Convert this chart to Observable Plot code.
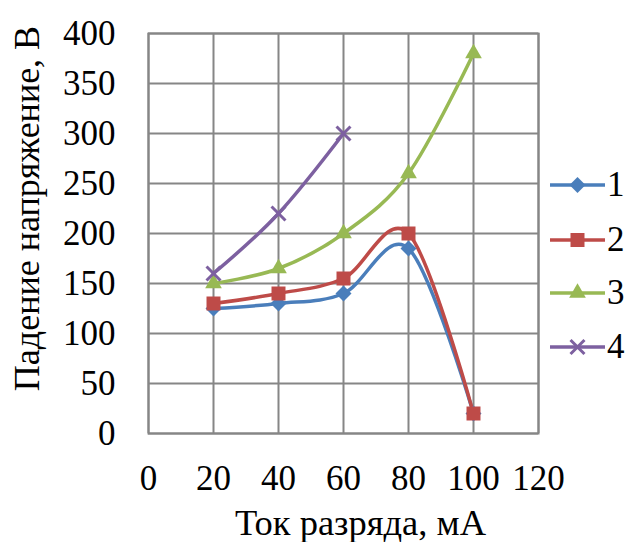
<!DOCTYPE html>
<html>
<head>
<meta charset="utf-8">
<script src="https://cdn.jsdelivr.net/npm/d3@7"></script>
<script src="https://cdn.jsdelivr.net/npm/@observablehq/plot@0.6"></script>
<style>
  body { margin: 0; background: #fff; }
  #chart { position: relative; width: 629px; height: 542px; font-family: "Liberation Serif", "Times New Roman", serif; }
  #legend { position: absolute; left: 548px; top: 0; }
  .item { position: absolute; left: 0; display: flex; align-items: center; height: 40px; }
  .item span { font-size: 35px; line-height: 40px; margin-left: 1px; color: #000; }
</style>
</head>
<body>
<div id="chart"></div>
<script>
// ---- data ----
const currents = [20, 40, 60, 80, 100];
const series1 = [125, 130, 140, 185, 20];
const series2 = [130, 140, 155, 200, 20];
const series3 = [150, 165, 200, 260, 380];
const series4 = [160, 220, 300];
const seriesNames = ["1", "2", "3", "4"];
const xTicks = [0, 20, 40, 60, 80, 100, 120];
const yTicks = [0, 50, 100, 150, 200, 250, 300, 350, 400];
const xTitle = "Ток разряда, мА";
const yTitle = "Падение напряжение, В";

// ---- styles ----
const colors = ["#4A7EBB", "#BE4B48", "#98B954", "#7D60A0"];
const symbols = ["diamond2", "square", "triangle", "times"];
const radii = [7.2, 7.9, 6.2, 6.4];

const allSeries = [series1, series2, series3, series4];
const rows = [];
allSeries.forEach((vals, si) => {
  vals.forEach((v, i) => rows.push({series: seriesNames[si], x: currents[i], y: v}));
});

const marks = [
  Plot.gridX(xTicks, {stroke: "#868686", strokeOpacity: 1, strokeWidth: 2}),
  Plot.gridY(yTicks, {stroke: "#868686", strokeOpacity: 1, strokeWidth: 2}),
  Plot.frame({stroke: "#868686", strokeWidth: 2}),
  Plot.axisX(xTicks, {tickSize: 0, tickPadding: 32, fontSize: 35, label: null, fill: "#000"}),
  Plot.axisY(yTicks, {tickSize: 0, tickPadding: 33, fontSize: 35, label: null, fill: "#000"}),
  Plot.text([xTitle], {frameAnchor: "bottom", text: d => d, fontSize: 36.5, textAnchor: "middle", lineAnchor: "bottom", dy: 101, dx: 17, fill: "#000"}),
  Plot.text([yTitle], {frameAnchor: "left", text: d => d, fontSize: 36, rotate: -90, textAnchor: "middle", lineAnchor: "top", dx: -135, dy: -25, fill: "#000"})
];

seriesNames.forEach((name, si) => {
  const data = rows.filter(r => r.series === name);
  marks.push(Plot.line(data, {x: "x", y: "y", stroke: colors[si], strokeWidth: 3.5, curve: "cardinal", tension: 0}));
});
seriesNames.forEach((name, si) => {
  const data = rows.filter(r => r.series === name);
  const isStroke = symbols[si] === "times";
  marks.push(Plot.dot(data, {
    x: "x", y: "y", symbol: () => symbols[si], r: radii[si],
    fill: isStroke ? "none" : colors[si],
    stroke: isStroke ? colors[si] : "none",
    strokeWidth: isStroke ? 3 : 0
  }));
});

const chart = Plot.plot({
  width: 629,
  height: 542,
  marginLeft: 148,
  marginRight: 91,
  marginTop: 33,
  marginBottom: 109,
  style: {fontFamily: "'Liberation Serif', 'Times New Roman', serif", background: "#fff", overflow: "visible"},
  x: {domain: [0, 120]},
  y: {domain: [0, 400]},
  symbol: {type: "identity"},
  marks
});
const root = document.getElementById("chart");
root.appendChild(chart);

// ---- legend (right side) ----
const legend = document.createElement("div");
legend.id = "legend";
const legendTops = [185, 240, 293, 347];
seriesNames.forEach((name, si) => {
  const item = document.createElement("div");
  item.className = "item";
  item.style.top = (legendTops[si] - 20) + "px";
  const svg = d3.create("svg").attr("width", 58).attr("height", 40);
  svg.append("line").attr("x1", 2).attr("x2", 57).attr("y1", 20).attr("y2", 20)
    .attr("stroke", colors[si]).attr("stroke-width", 3.5);
  const symMap = {diamond2: d3.symbolDiamond2, square: d3.symbolSquare, triangle: d3.symbolTriangle, times: d3.symbolTimes};
  const isStroke = symbols[si] === "times";
  svg.append("path")
    .attr("d", d3.symbol(symMap[symbols[si]], Math.PI * radii[si] * radii[si])())
    .attr("transform", "translate(29.5,20)")
    .attr("fill", isStroke ? "none" : colors[si])
    .attr("stroke", isStroke ? colors[si] : "none")
    .attr("stroke-width", 3);
  item.appendChild(svg.node());
  const span = document.createElement("span");
  span.textContent = name;
  item.appendChild(span);
  legend.appendChild(item);
});
root.appendChild(legend);
</script>
</body>
</html>
